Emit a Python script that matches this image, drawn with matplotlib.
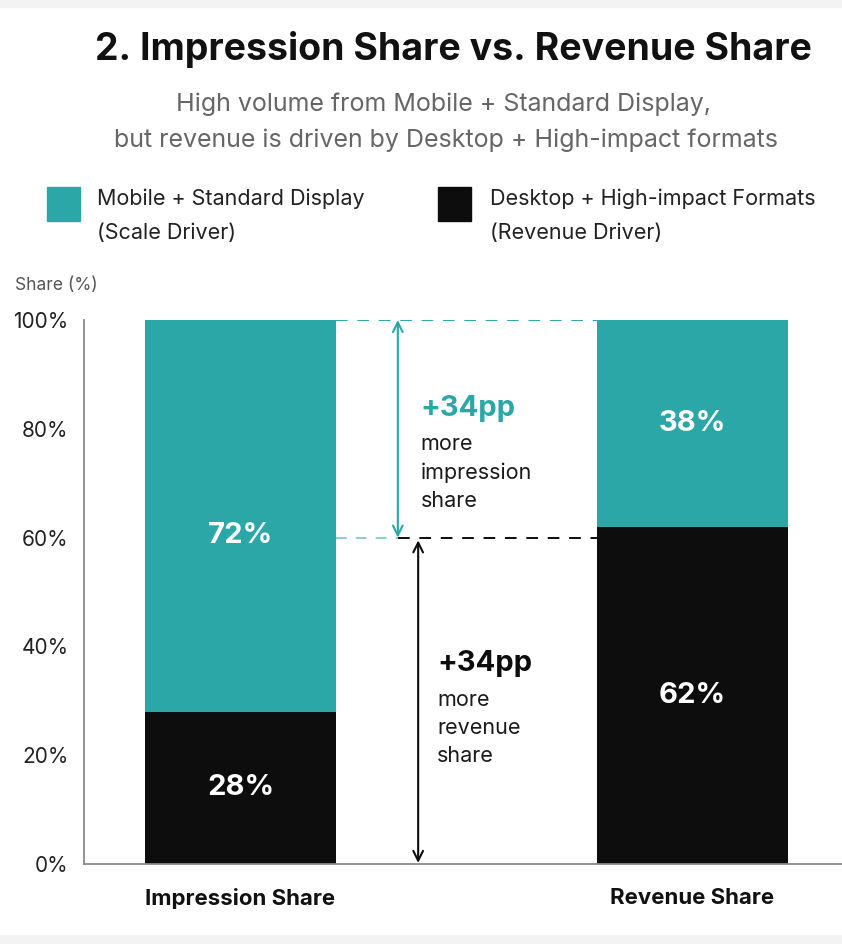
import matplotlib
matplotlib.use("Agg")
import matplotlib.pyplot as plt
from matplotlib.patches import Rectangle

plt.rcParams['font.family'] = ['Inter', 'DejaVu Sans']

# data
categories = ['Impression Share', 'Revenue Share']
desktop_share = [28, 62]   # Desktop + High-impact Formats
mobile_share = [72, 38]    # Mobile + Standard Display
yticks = [0, 20, 40, 60, 80, 100]
gap_level = 60             # where the dashed reference line sits
gap_pp = 34

teal = '#2ba7a7'
black = '#0d0d0d'

fig = plt.figure(figsize=(8.42, 9.44), dpi=100)
fig.patches.append(Rectangle((0, 1 - 7 / 944), 1, 7 / 944, transform=fig.transFigure,
                             color='#f3f3f3', zorder=0))
fig.patches.append(Rectangle((0, 0), 1, 9 / 944, transform=fig.transFigure,
                             color='#f3f3f3', zorder=0))

ax = fig.add_axes([84 / 842, 1 - 864 / 944, 1 - 84 / 842, (864 - 320) / 944])

x = range(len(categories))
width = 0.4226
ax.bar(x, desktop_share, width, color=black, zorder=2)
ax.bar(x, mobile_share, width, bottom=desktop_share, color=teal, zorder=2)

# labels inside the bars
for i in x:
    d = desktop_share[i]
    m = mobile_share[i]
    ax.text(i, d / 2, f'{d}%', color='white', fontsize=21, fontweight='bold',
            ha='center', va='center', zorder=3)
    my = d + m / 2
    if m > 50:
        my = d + m * 0.45
    ax.text(i, my, f'{m}%', color='white', fontsize=21, fontweight='bold',
            ha='center', va='center', zorder=3)

ax.set_xlim(-0.3463, 1.3307)
ax.set_ylim(0, 100)
ax.set_yticks(yticks)
ax.set_yticklabels([f'{t}%' for t in yticks], fontsize=15, color='#222222')
ax.set_xticks(list(x))
ax.set_xticklabels(categories, fontsize=16, fontweight='bold', color='#111111')
ax.tick_params(axis='both', length=0)
ax.tick_params(axis='y', pad=11)
ax.tick_params(axis='x', pad=17)
for s in ['top', 'right']:
    ax.spines[s].set_visible(False)
for s in ['left', 'bottom']:
    ax.spines[s].set_color('#8a8a8a')
    ax.spines[s].set_linewidth(1.3)

# dashed reference lines between the bars
left_edge = width / 2
right_edge = 1 - width / 2
ax_teal = 0.348
ax_black = 0.393
ax.plot([left_edge, right_edge], [100, 100], color=teal, lw=1.4, dashes=(6, 5), zorder=1)
ax.plot([left_edge, ax_teal], [gap_level, gap_level], color=teal, alpha=0.6, lw=1.3,
        dashes=(6, 5), zorder=1)
ax.plot([ax_teal, right_edge], [gap_level, gap_level], color=black, lw=1.4,
        dashes=(6, 5), zorder=1)

# arrows
ax.annotate('', xy=(ax_teal, 100), xytext=(ax_teal, gap_level),
            arrowprops=dict(arrowstyle='<->,head_length=0.7,head_width=0.35', color=teal,
                            lw=1.5, shrinkA=0, shrinkB=0))
ax.annotate('', xy=(ax_black, gap_level - 0.5), xytext=(ax_black, 0.2),
            arrowprops=dict(arrowstyle='<->,head_length=0.7,head_width=0.35', color=black,
                            lw=1.5, shrinkA=0, shrinkB=0))

ax.text(ax_teal + 0.05, 83.8, f'+{gap_pp}pp', color=teal, fontsize=21, fontweight='bold',
        ha='left', va='center')
ax.text(ax_teal + 0.05, 79.0, 'more\nimpression\nshare', color='#1a1a1a', fontsize=15.5,
        ha='left', va='top', linespacing=1.5)
ax.text(ax_black + 0.042, 36.8, f'+{gap_pp}pp', color=black, fontsize=21,
        fontweight='bold', ha='left', va='center')
ax.text(ax_black + 0.042, 32.0, 'more\nrevenue\nshare', color='#1a1a1a', fontsize=15.5,
        ha='left', va='top', linespacing=1.5)

# titles
fig.text(453 / 842, 1 - 50 / 944, '2. Impression Share vs. Revenue Share', fontsize=27,
         fontweight='bold', ha='center', va='center', color='#111111')
fig.text(443 / 842, 1 - 104 / 944, 'High volume from Mobile + Standard Display,',
         fontsize=18, ha='center', va='center', color='#666666')
fig.text(446 / 842, 1 - 140 / 944, 'but revenue is driven by Desktop + High-impact formats',
         fontsize=18, ha='center', va='center', color='#666666')

# legend
fig.patches.append(Rectangle((47 / 842, 1 - 221 / 944), 33 / 842, 34 / 944,
                             transform=fig.transFigure, color=teal))
fig.patches.append(Rectangle((438 / 842, 1 - 221 / 944), 33 / 842, 34 / 944,
                             transform=fig.transFigure, color=black))
fig.text(97 / 842, 1 - 199 / 944, 'Mobile + Standard Display', fontsize=15.5,
         ha='left', va='center', color='#222222')
fig.text(97 / 842, 1 - 233 / 944, '(Scale Driver)', fontsize=15.5,
         ha='left', va='center', color='#222222')
fig.text(490 / 842, 1 - 199 / 944, 'Desktop + High-impact Formats', fontsize=15.5,
         ha='left', va='center', color='#222222')
fig.text(490 / 842, 1 - 233 / 944, '(Revenue Driver)', fontsize=15.5,
         ha='left', va='center', color='#222222')

fig.text(15 / 842, 1 - 286 / 944, 'Share (%)', fontsize=12.5, ha='left', va='center',
         color='#555555')

fig.savefig('out.png', dpi=100)
